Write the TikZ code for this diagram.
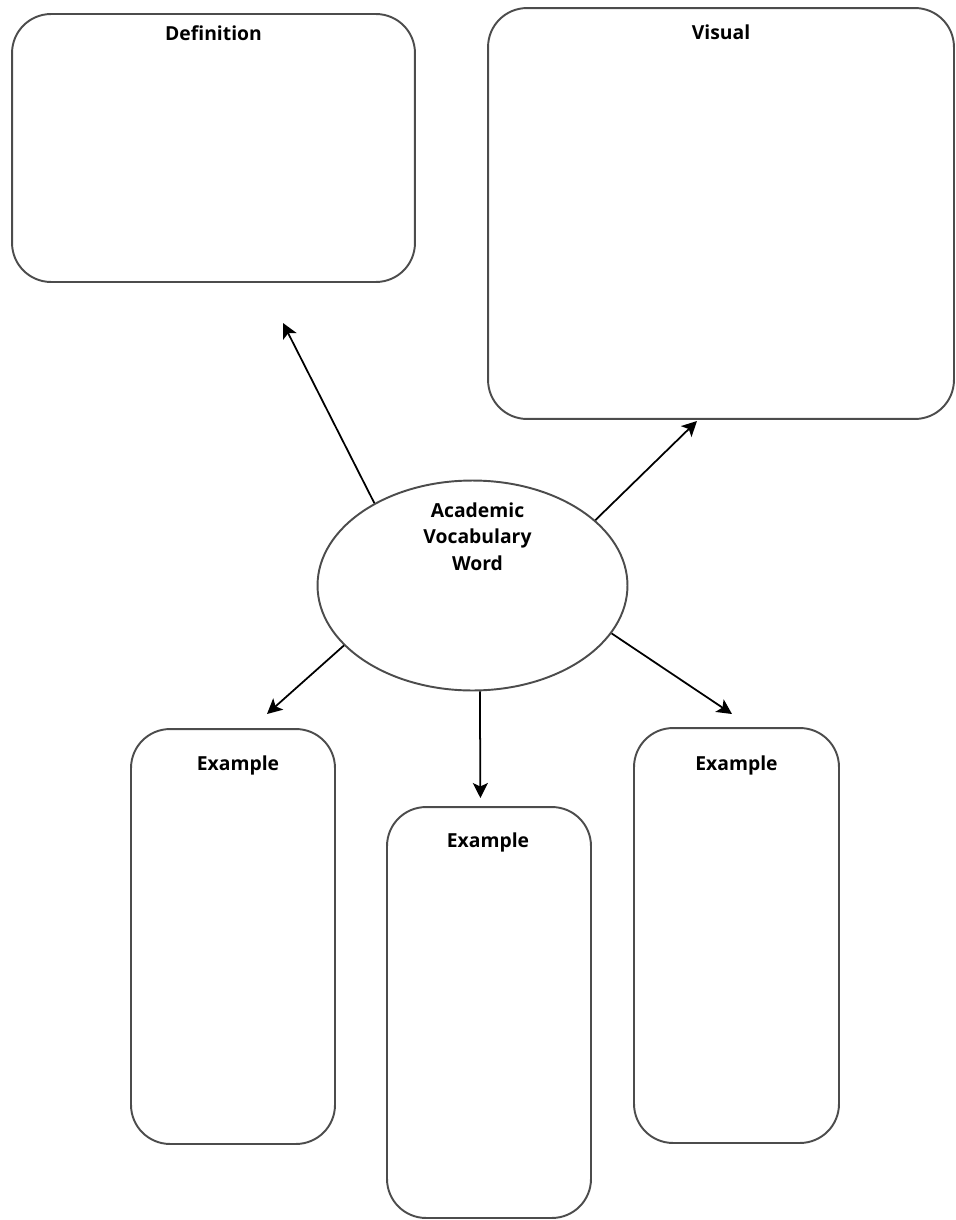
\documentclass[tikz,border=0pt]{standalone}
\usepackage{fontspec}
\setmainfont{Open Sans}
\usetikzlibrary{shapes.geometric, arrows.meta, calc}

\begin{document}
\begin{tikzpicture}[x=0.02cm, y=-0.02cm,
        box/.style={draw=black!70, line width=1.1pt, rounded corners=0.78cm},
        title/.style={font=\bfseries\fontsize{11}{15}\selectfont, align=center, inner sep=0pt},
        link/.style={-{Stealth[length=3mm,width=3mm,inset=0.7mm]}, line width=1pt}]
        \useasboundingbox (0,0) rectangle (956,1220);

        \node[box, minimum width=8.06cm, minimum height=5.36cm] (def) at (213.5,148) {};
        \node[box, minimum width=9.32cm, minimum height=8.22cm] (vis) at (721,213.5) {};
        \node[box, minimum width=4.08cm, minimum height=8.3cm] (exleft) at (233,936.5) {};
        \node[box, minimum width=4.08cm, minimum height=8.22cm] (exmid) at (489,1012.5) {};
        \node[box, minimum width=4.1cm, minimum height=8.3cm] (exright) at (736.5,935.5) {};
        \node[draw=black!70, line width=1.1pt, ellipse, minimum width=6.2cm, minimum height=4.2cm] (word) at (472.5,585.5) {};

        \node[title] (deftitle) at ($(def.north)+(0,20)$) {Definition};
        \node[title] (vistitle) at ($(vis.north)+(0,25)$) {Visual};
        \node[title] (exlefttitle) at ($(exleft.north)+(5,37)$) {Example};
        \node[title] (exmidtitle) at ($(exmid.north)+(-1,36)$) {Example};
        \node[title] (exrighttitle) at ($(exright.north)+(0,38)$) {Example};
        \node[title] (wordtitle) at ($(word.center)+(5,-49)$) {Academic\\Vocabulary\\Word};

        \coordinate (deftip) at (283,323);
        \coordinate (vistip) at (697,421);
        \coordinate (lefttip) at (267,714);
        \coordinate (midtip) at (480.4,798);
        \coordinate (righttip) at (732,714);
        \foreach \a/\t in {140/deftip, 28.5/vistip, 205.7/lefttip, 274.3/midtip, 341/righttip}
            \draw[link] (word.\a) -- (\t);
    \end{tikzpicture}
\end{document}
